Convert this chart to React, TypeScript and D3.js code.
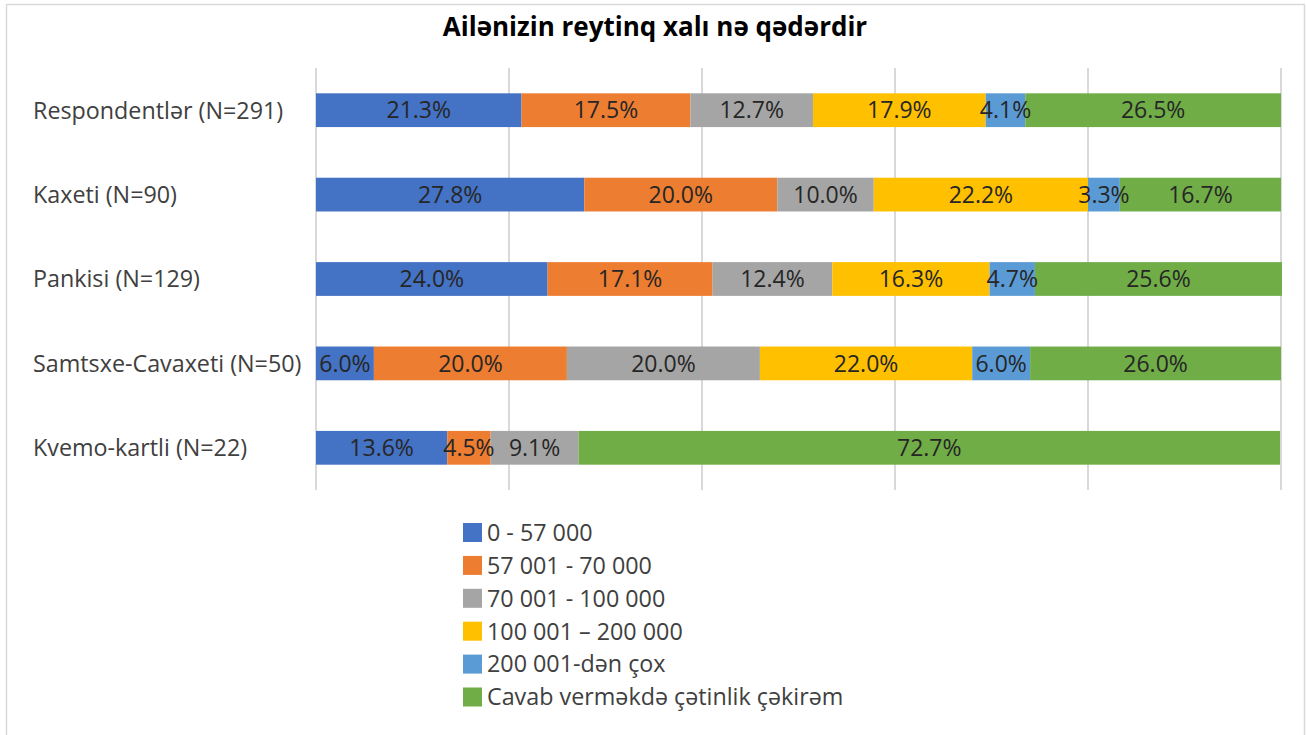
import React from "react";
import * as d3 from "d3";

const title = "Ailənizin reytinq xalı nə qədərdir";
const categories = [
  "Respondentlər (N=291)",
  "Kaxeti (N=90)",
  "Pankisi (N=129)",
  "Samtsxe-Cavaxeti (N=50)",
  "Kvemo-kartli (N=22)",
];
const seriesNames = [
  "0 - 57 000",
  "57 001 - 70 000",
  "70 001 - 100 000",
  "100 001 – 200 000",
  "200 001-dən çox",
  "Cavab verməkdə çətinlik çəkirəm",
];
const seriesColors = ["#4472C4", "#ED7D31", "#A5A5A5", "#FFC000", "#5B9BD5", "#70AD47"];
const s0 = [21.3, 27.8, 24.0, 6.0, 13.6];
const s1 = [17.5, 20.0, 17.1, 20.0, 4.5];
const s2 = [12.7, 10.0, 12.4, 20.0, 9.1];
const s3 = [17.9, 22.2, 16.3, 22.0, 0];
const s4 = [4.1, 3.3, 4.7, 6.0, 0];
const s5 = [26.5, 16.7, 25.6, 26.0, 72.7];
const seriesValues = [s0, s1, s2, s3, s4, s5];
const gridTicks = [0, 20, 40, 60, 80, 100];

const W = 1307;
const H = 735;
const FONT = "'Open Sans', 'Noto Sans', sans-serif";

export default function App() {
  const x = d3.scaleLinear().domain([0, 100]).range([316, 1281]);
  const y = d3.scaleBand<string>().domain(categories).range([68, 490]).paddingInner(0.6).paddingOuter(0.3);

  const rows = categories.map((c, ci) => {
    let acc = 0;
    return seriesValues.map((vals, si) => {
      const v = vals[ci];
      const start = acc;
      acc += v;
      return { c, si, v, start, end: acc };
    });
  });

  return (
    <svg width={W} height={H} style={{ position: "absolute", left: 0, top: 0, background: "#fff" }}>
      <rect x={6.5} y={4.5} width={1298} height={740} fill="#fff" stroke="#d9d9d9" strokeWidth={1.5} />
      <text x={655} y={36} textAnchor="middle" fontFamily={FONT} fontWeight="bold" fontSize={26} fill="#000">
        {title}
      </text>
      {gridTicks.map((t) => (
        <line key={t} x1={x(t)} x2={x(t)} y1={68} y2={490} stroke="#d9d9d9" strokeWidth={2} />
      ))}
      {rows.map((segs, ci) => (
        <g key={ci}>
          {segs.map((s) =>
            s.v > 0 ? (
              <rect
                key={s.si}
                x={x(s.start)}
                y={y(s.c)!}
                width={x(s.end) - x(s.start)}
                height={y.bandwidth()}
                fill={seriesColors[s.si]}
              />
            ) : null
          )}
          {segs.map((s) =>
            s.v > 0 ? (
              <text
                key={"t" + s.si}
                x={(x(s.start) + x(s.end)) / 2}
                y={y(s.c)! + y.bandwidth() / 2}
                dy="0.36em"
                textAnchor="middle"
                fontFamily={FONT}
                fontSize={23}
                fill="#262626"
              >
                {s.v.toFixed(1) + "%"}
              </text>
            ) : null
          )}
          <text
            x={33}
            y={y(segs[0].c)! + y.bandwidth() / 2}
            dy="0.36em"
            fontFamily={FONT}
            fontSize={23.3}
            fill="#404040"
          >
            {segs[0].c}
          </text>
        </g>
      ))}
      {seriesNames.map((n, i) => (
        <g key={n} transform={`translate(463, ${532.5 + i * 32.9})`}>
          <rect x={0} y={-9.5} width={19} height={19} fill={seriesColors[i]} />
          <text x={24} y={0} dy="0.36em" fontFamily={FONT} fontSize={23.3} fill="#404040">
            {n}
          </text>
        </g>
      ))}
    </svg>
  );
}
